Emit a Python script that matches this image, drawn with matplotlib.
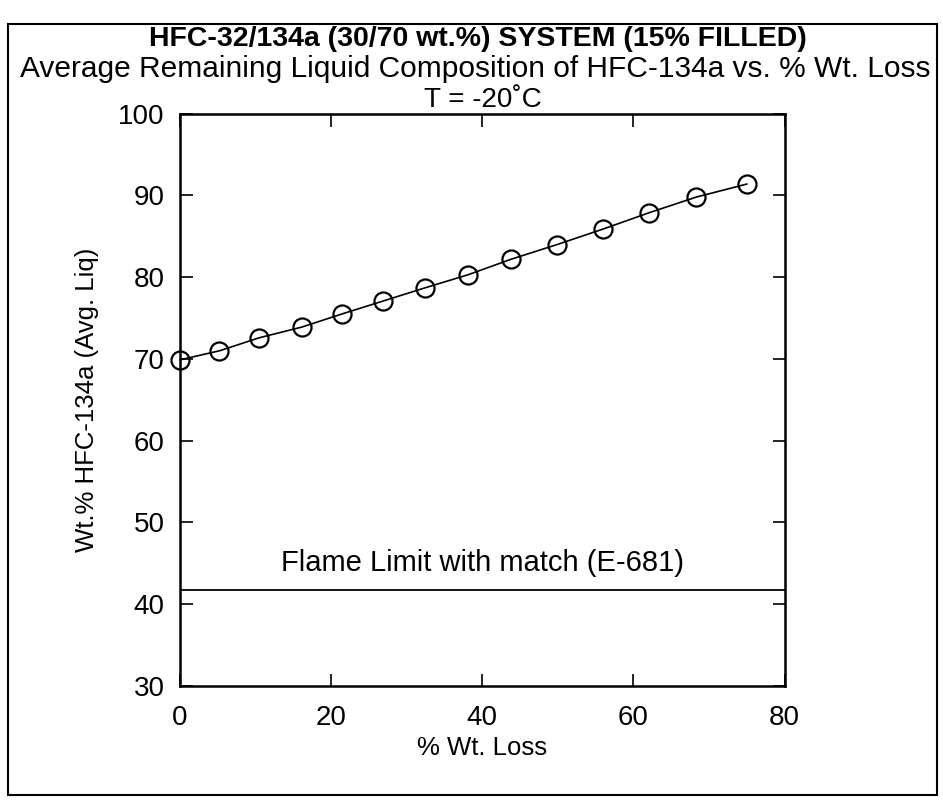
import matplotlib
matplotlib.use("Agg")
import matplotlib.pyplot as plt
from matplotlib.patches import Rectangle

plt.rcParams['font.family'] = ['Liberation Sans', 'DejaVu Sans']

# values
wt_loss = [0.0, 5.2, 10.5, 16.1, 21.4, 26.9, 32.4, 38.1, 43.8, 49.9, 56.0, 62.1, 68.3, 75.0]
wt_134a = [69.9, 71.0, 72.6, 73.9, 75.5, 77.1, 78.7, 80.3, 82.2, 84.0, 85.9, 87.9, 89.8, 91.4]
flame_limit = 41.7
x_ticks = [0, 20, 40, 60, 80]
y_ticks = [30, 40, 50, 60, 70, 80, 90, 100]

fig = plt.figure(figsize=(9.43, 8.01), dpi=100)
ax = fig.add_axes([0.191, 0.1436, 0.641, 0.7144])

ax.plot(wt_loss, wt_134a, color='black', lw=1.2, marker='o', ms=13,
        mfc='none', mec='black', mew=1.6, clip_on=False)
ax.axhline(flame_limit, color='black', lw=1.3)
ax.text(40, flame_limit + 1.6, "Flame Limit with match (E-681)",
        ha='center', va='bottom', fontsize=21)

ax.set_xlim(0, 80)
ax.set_ylim(30, 100)
ax.set_xticks(x_ticks)
ax.set_yticks(y_ticks)
ax.tick_params(direction='in', length=9, width=1.2, labelsize=20,
               top=True, right=True)
ax.tick_params(axis='x', pad=14)
ax.tick_params(axis='y', pad=11)
for s in ax.spines.values():
    s.set_linewidth(1.8)

ax.set_xlabel("% Wt. Loss", fontsize=18.5, labelpad=3)
ax.set_ylabel("Wt.% HFC-134a (Avg. Liq)", fontsize=18.5, labelpad=14)

fig.text(0.507, 0.951, "HFC-32/134a (30/70 wt.%) SYSTEM (15% FILLED)",
         ha='center', va='center', fontsize=20.5, fontweight='bold')
fig.text(0.504, 0.914, "Average Remaining Liquid Composition of HFC-134a vs. % Wt. Loss",
         ha='center', va='center', fontsize=21.5)
fig.text(0.512, 0.8755, "T = -20\u02daC", ha='center', va='center', fontsize=20)

# outer frame around the whole drawing
fig.patches.append(Rectangle((0.009, 0.008), 0.985, 0.962, transform=fig.transFigure,
                             fill=False, edgecolor='black', lw=1.5))

fig.savefig("out.png", dpi=100)
